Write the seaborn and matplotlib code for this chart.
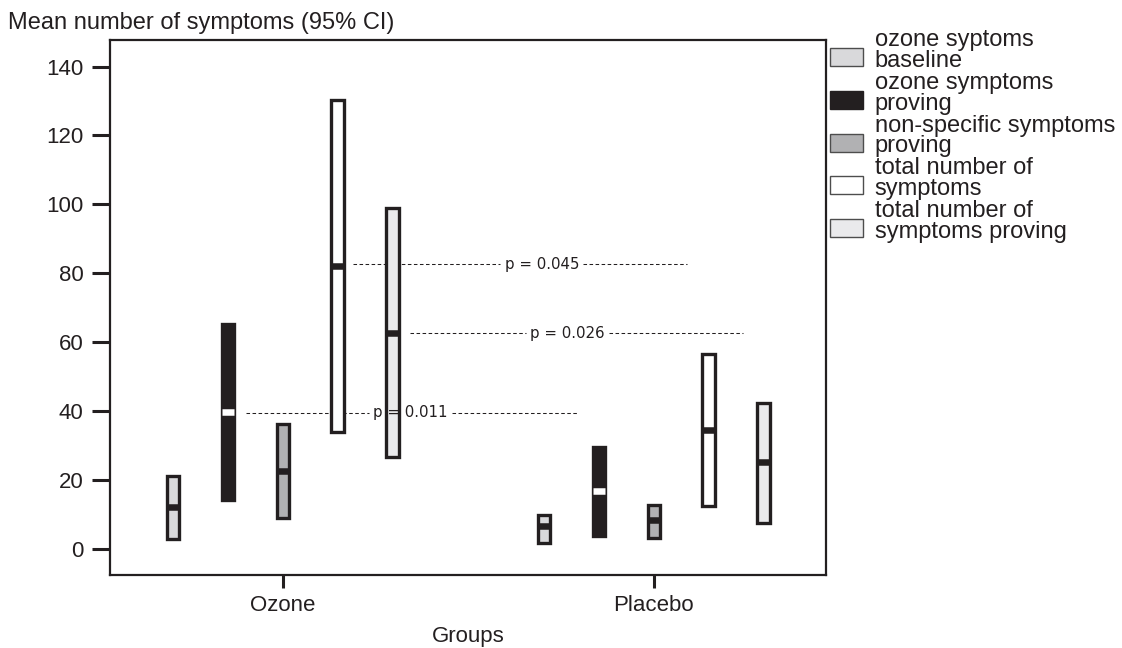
import numpy as np
import pandas as pd
import matplotlib
matplotlib.use("Agg")
import matplotlib.pyplot as plt
from matplotlib.patches import Patch, Rectangle
from matplotlib.legend_handler import HandlerPatch
import seaborn as sns

# ---- data ----
groups = ["Ozone", "Placebo"]
series = ["ozone syptoms\nbaseline", "ozone symptoms\nproving",
          "non-specific symptoms\nproving", "total number of\nsymptoms",
          "total number of\nsymptoms proving"]
ozone_low = [3.0, 14.2, 9.0, 33.9, 26.6]
ozone_high = [21.3, 65.4, 36.3, 130.2, 99.1]
ozone_mean = [12.1, 39.8, 22.8, 82.1, 62.6]
placebo_low = [1.9, 3.9, 3.3, 12.5, 7.5]
placebo_high = [9.9, 29.7, 12.9, 56.5, 42.5]
placebo_mean = [6.7, 16.8, 8.4, 34.5, 25.2]

p_labels = ["p = 0.045", "p = 0.026", "p = 0.011"]
p_y = [82.7, 62.6, 39.6]
p_x0 = [0.189, 0.343, -0.099]
p_x1 = [1.088, 1.241, 0.796]
p_xtext = [0.698, 0.767, 0.343]

yticks = [0, 20, 40, 60, 80, 100, 120, 140]

fills = ["#d9d9db", "#231f20", "#b1b1b3", "#ffffff", "#eaeaec"]
mean_colors = ["#231f20", "#ffffff", "#231f20", "#231f20", "#231f20"]
edge = "#231f20"

rows = []
for gi, (lo, hi, mn) in enumerate([(ozone_low, ozone_high, ozone_mean),
                                   (placebo_low, placebo_high, placebo_mean)]):
    for si in range(len(series)):
        rows.append(dict(group=groups[gi], gi=gi, si=si, low=lo[si], high=hi[si], mean=mn[si]))
df = pd.DataFrame(rows)

sns.set_theme(style="white")
plt.rcParams["font.family"] = ["Liberation Sans", "DejaVu Sans"]

fig = plt.figure(figsize=(11.22, 6.48), dpi=100)
ax = fig.add_axes([110 / 1122, 1 - 575 / 648, (826 - 110) / 1122, (575 - 40) / 648])

step = 0.148
width = 0.034
for _, r in df.iterrows():
    x = r.gi + (r.si - 2) * step
    ax.bar(x, r.high - r.low, bottom=r.low, width=width, color=fills[r.si],
           edgecolor=edge, linewidth=2.4, zorder=3)
    ax.hlines(r["mean"], x - width / 2, x + width / 2, color=mean_colors[r.si],
              linewidth=4.7, zorder=4)

gap = 0.112
for lab, y, x0, x1, xt in zip(p_labels, p_y, p_x0, p_x1, p_xtext):
    for a, b in [(x0, xt - gap), (xt + gap, x1)]:
        ax.plot([a, b], [y, y], color="#231f20", linewidth=0.75,
                linestyle=(0, (3.4, 2.4)), zorder=2)
    ax.text(xt, y, lab, ha="center", va="center", fontsize=10.8,
            family=["DejaVu Sans"], color="#231f20", zorder=5)

ax.set_xlim(-0.466, 1.464)
ax.set_ylim(-7.5, 147.7)
ax.set_xticks([0, 1])
ax.set_xticklabels(groups, fontsize=16, color="#231f20")
ax.set_yticks(yticks)
ax.set_yticklabels([str(v) for v in yticks], fontsize=16, color="#231f20")
ax.tick_params(axis="y", direction="out", length=13, width=2.2, color="#231f20",
               pad=6, left=True)
ax.tick_params(axis="x", direction="out", length=9.5, width=2.2, color="#231f20",
               pad=5, bottom=True)
for s in ax.spines.values():
    s.set_visible(True)
    s.set_color("#231f20")
    s.set_linewidth(1.6)
ax.grid(False)
ax.set_xlabel("Groups", fontsize=16, color="#231f20", labelpad=7)
ax.set_ylabel("")

fig.text(8 / 1122, 1 - 29 / 648, "Mean number of symptoms (95% CI)", fontsize=17,
         color="#231f20", ha="left", va="baseline")


def lowered_patch(legend, orig_handle, xdescent, ydescent, width, height, fontsize):
    return Rectangle((-xdescent, -ydescent - 4.5), width, height)


handles = [Patch(facecolor=c, edgecolor="#4d4d4d" if c != "#231f20" else "#231f20",
                 linewidth=1.0) for c in fills]
leg = fig.legend(handles, series, loc="upper left",
                 bbox_to_anchor=(830 / 1122, 1 - 29 / 648), frameon=False,
                 fontsize=17, handlelength=1.4, handleheight=0.8,
                 handletextpad=0.5, labelspacing=0.0, borderaxespad=0,
                 borderpad=0,
                 handler_map={Patch: HandlerPatch(patch_func=lowered_patch)})
for t in leg.get_texts():
    t.set_linespacing(0.93)
    t.set_color("#231f20")

fig.savefig("out.png", dpi=100)
